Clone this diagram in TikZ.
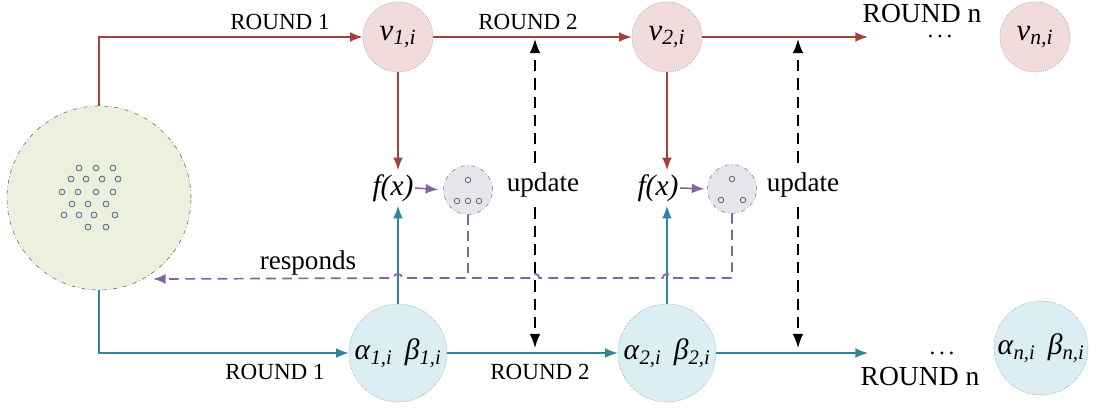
\documentclass[tikz,border=0pt]{standalone}
\usepackage{fontspec}
\setmainfont{Liberation Serif}
\usetikzlibrary{arrows.meta}

\definecolor{roundred}{RGB}{164,64,58}
\definecolor{roundteal}{RGB}{49,133,155}
\definecolor{respurple}{RGB}{128,100,162}
\definecolor{vfill}{RGB}{242,220,219}
\definecolor{abfill}{RGB}{219,238,243}
\definecolor{poolfill}{RGB}{235,241,222}
\definecolor{fxfill}{RGB}{232,228,236}
\definecolor{dotfill}{RGB}{214,232,240}

\tikzset{
  vcirc/.style={circle, draw=gray, densely dotted, fill=vfill, minimum size=1.75cm,
    inner sep=0pt, font=\fontsize{22}{24}\selectfont},
  abcirc/.style={circle, draw=gray, densely dotted, fill=abfill, minimum size=2.45cm,
    inner sep=0pt, font=\fontsize{21}{24}\selectfont},
  poolcirc/.style={circle, draw=gray!80!black, dash dot, fill=poolfill, minimum size=4.6cm},
  fxcirc/.style={circle, draw=gray, dash dot, fill=fxfill, minimum size=1.225cm},
  pdot/.style={draw=black!70, fill=dotfill, line width=0.45pt},
  fxnode/.style={inner sep=1pt, minimum height=0.875cm, font=\fontsize{21}{24}\selectfont},
  updnode/.style={inner sep=1pt, minimum height=1.1cm, font=\fontsize{19.3}{22}\selectfont},
  roundlbl/.style={inner sep=1pt, font=\fontsize{16.4}{19}\selectfont},
  roundnlbl/.style={inner sep=1pt, font=\fontsize{19.6}{22}\selectfont},
  redline/.style={draw=roundred, line width=1.1pt, -{Latex[length=9pt,width=7pt]}},
  tealline/.style={draw=roundteal, line width=1.1pt, -{Latex[length=9pt,width=7pt]}},
  purpline/.style={draw=respurple, line width=1.1pt, -{Latex[length=9pt,width=7pt]}},
  respline/.style={draw=respurple, line width=1.2pt, dash pattern=on 7pt off 4.5pt},
  updline/.style={draw=black, line width=1.1pt, dash pattern=on 8pt off 5pt,
    -{Latex[length=10pt,width=7.5pt]}}
}

\begin{document}
\begin{tikzpicture}[x=0.025cm, y=-0.025cm]
  \useasboundingbox (0,0) rectangle (1096,408);

  % participants pool
  \node[poolcirc] (pool) at (99,198) {};
  \foreach \x/\y in {79/168, 96/168, 113/168,
                     71/179, 86/179, 102/179, 118/179,
                     62/192, 78/192, 96/192, 113/192,
                     72/204, 88/204, 106/204,
                     64/215, 79/215, 94/215, 115/215,
                     88/227, 106/227}
    \draw[pdot] (\x,\y) circle[radius=2.1pt];

  % round circles
  \node[vcirc] (v1) at (398,37) {\textit{v}\textsubscript{\textit{1,i}}};
  \node[vcirc] (v2) at (667,37) {\textit{v}\textsubscript{\textit{2,i}}};
  \node[vcirc] (vn) at (1035,37) {\textit{v}\textsubscript{\textit{n,i}}};

  \node[abcirc] (a1) at (398,353) {\textit{α}\textsubscript{\textit{1,i}}\, \textit{β}\textsubscript{\textit{1,i}}};
  \node[abcirc] (a2) at (667,353) {\textit{α}\textsubscript{\textit{2,i}}\, \textit{β}\textsubscript{\textit{2,i}}};
  \node[abcirc, minimum size=2.35cm] (an) at (1041,348) {\textit{α}\textsubscript{\textit{n,i}}\, \textit{β}\textsubscript{\textit{n,i}}};

  \node[fxnode] (f1) at (393,188) {\textit{f(x)}};
  \node[fxnode] (f2) at (658,188) {\textit{f(x)}};

  \node[fxcirc] (s1) at (468,190) {};
  \node[fxcirc] (s2) at (732,189) {};
  \foreach \x/\y in {468/180, 457/201, 468/201, 479/201,
                     732/179, 721/200, 743/200}
    \draw[pdot] (\x,\y) circle[radius=2pt];

  \node[updnode] (upd1) at (543,185) {update};
  \node[updnode] (upd2) at (803,185) {update};

  % labels
  \node[roundlbl] (r1t) at (280,22) {ROUND 1};
  \node[roundlbl] (r2t) at (528,22) {ROUND 2};
  \node[roundnlbl, inner sep=0pt] (rnt) at (922,14) {ROUND n};
  \node[roundlbl, inner sep=0pt] (dtt) at (940,36) {.\,.\,.};
  \node[roundlbl] (r1b) at (275,372) {ROUND 1};
  \node[roundlbl] (r2b) at (540,372) {ROUND 2};
  \node[roundnlbl] (rnb) at (920,377) {ROUND n};
  \node[roundlbl, inner sep=0pt] (dtb) at (942,353) {.\,.\,.};
  \node[updnode, minimum height=0pt] (resp) at (308,263) {responds};

  \coordinate (endr) at (868,37);
  \coordinate (endt) at (868,353);
  \coordinate (u1t) at (535,39);
  \coordinate (u1b) at (535,348);
  \coordinate (u2t) at (798,39);
  \coordinate (u2b) at (798,348);
  \coordinate (bus) at (0,278);
  \coordinate (rtip) at (153,279);

  % red rounds
  \draw[redline] (pool.north) |- (v1.west);
  \draw[redline] (v1.east) -- (v2.west);
  \draw[redline] (v2.east) -- (endr);
  \draw[redline] (v1.south) -- (v1.south |- f1.north);
  \draw[redline] (v2.south) -- (v2.south |- f2.north);

  % teal rounds
  \draw[tealline] (pool.south) |- (a1.west);
  \draw[tealline] (a1.east) -- (a2.west);
  \draw[tealline] (a2.east) -- (endt);
  \draw[tealline] (a1.north) -- (a1.north |- f1.south);
  \draw[tealline] (a2.north) -- (a2.north |- f2.south);

  % f(x) to results
  \draw[purpline, shorten >=3.5pt] (f1.east) -- (s1.west);
  \draw[purpline, shorten >=2pt] (f2.east) -- (s2.west);

  % update arrows
  \draw[updline] (u1t |- upd1.north) -- (u1t);
  \draw[updline] (u1t |- upd1.south) -- (u1b);
  \draw[updline] (u2t |- upd2.north) -- (u2t);
  \draw[updline] (u2t |- upd2.south) -- (u2b);

  % responds
  \draw[respline] (s1.south) -- (s1.south |- bus);
  \draw[respline, -{Latex[length=9pt,width=7pt]}] (s2.south) -- (s2.south |- bus)
    -- ([xshift=3pt]a2.north |- bus) arc[start angle=0, end angle=180, radius=3pt]
    -- ([xshift=3pt]u1t |- bus) arc[start angle=0, end angle=180, radius=3pt]
    -- ([xshift=3pt]a1.north |- bus) arc[start angle=0, end angle=180, radius=3pt]
    -- (rtip);
\end{tikzpicture}
\end{document}
